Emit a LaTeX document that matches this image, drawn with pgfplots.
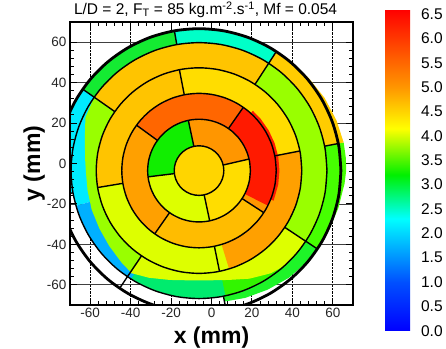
\documentclass[border=0pt]{standalone}
\usepackage{pgfplots}
\usepackage{pgfplotstable}
\pgfplotsset{compat=1.18}
\usepackage{fontspec}
\setmainfont{Liberation Sans}

\definecolor{c6a}{RGB}{30,245,40}
\definecolor{c6b}{RGB}{70,255,0}
\definecolor{cgold}{RGB}{255,204,0}
\definecolor{ccg}{RGB}{0,255,200}
\definecolor{cgr}{RGB}{20,235,50}
\definecolor{ccy}{RGB}{0,235,255}
\definecolor{cgold2}{RGB}{255,196,0}
\definecolor{cblue}{RGB}{0,176,255}
\definecolor{clg}{RGB}{153,255,0}
\definecolor{cbg}{RGB}{0,235,110}
\definecolor{cg2}{RGB}{50,245,0}
\definecolor{cyg}{RGB}{221,255,0}
\definecolor{cyel}{RGB}{255,221,0}
\definecolor{cor}{RGB}{255,160,0}
\definecolor{cred}{RGB}{255,26,0}
\definecolor{cor3}{RGB}{255,188,0}
\definecolor{corr}{RGB}{255,102,0}
\definecolor{cor2}{RGB}{255,150,0}
\definecolor{cgrn}{RGB}{17,238,0}
\definecolor{cc1}{RGB}{255,213,0}

\pgfplotsset{
  layers/gridbelow/.define layer set={axis background,axis grid,main,axis ticks,axis lines,axis tick labels,axis descriptions,axis foreground}{/pgfplots/layers/standard},
  P/.style={data cs=polar, xshift=-12.5pt, yshift=-7.1pt},
  W/.style={P, draw=none, fill=#1},
  L/.style={P, black, line width=1.4pt},
}

% ring circles: angle (deg) and radii (mm) of the measurement rings
\pgfplotstableread{
t r1 r2 r3 r4 r5 r6
0 12.27 25.4 38.2 50.85 63.3 70.2
10 12.27 25.4 38.2 50.85 63.3 70.2
20 12.27 25.4 38.2 50.85 63.3 70.2
30 12.27 25.4 38.2 50.85 63.3 70.2
40 12.27 25.4 38.2 50.85 63.3 70.2
50 12.27 25.4 38.2 50.85 63.3 70.2
60 12.27 25.4 38.2 50.85 63.3 70.2
70 12.27 25.4 38.2 50.85 63.3 70.2
80 12.27 25.4 38.2 50.85 63.3 70.2
90 12.27 25.4 38.2 50.85 63.3 70.2
100 12.27 25.4 38.2 50.85 63.3 70.2
110 12.27 25.4 38.2 50.85 63.3 70.2
120 12.27 25.4 38.2 50.85 63.3 70.2
130 12.27 25.4 38.2 50.85 63.3 70.2
140 12.27 25.4 38.2 50.85 63.3 70.2
150 12.27 25.4 38.2 50.85 63.3 70.2
160 12.27 25.4 38.2 50.85 63.3 70.2
170 12.27 25.4 38.2 50.85 63.3 70.2
180 12.27 25.4 38.2 50.85 63.3 70.2
190 12.27 25.4 38.2 50.85 63.3 70.2
200 12.27 25.4 38.2 50.85 63.3 70.2
210 12.27 25.4 38.2 50.85 63.3 70.2
220 12.27 25.4 38.2 50.85 63.3 70.2
230 12.27 25.4 38.2 50.85 63.3 70.2
240 12.27 25.4 38.2 50.85 63.3 70.2
250 12.27 25.4 38.2 50.85 63.3 70.2
260 12.27 25.4 38.2 50.85 63.3 70.2
270 12.27 25.4 38.2 50.85 63.3 70.2
280 12.27 25.4 38.2 50.85 63.3 70.2
290 12.27 25.4 38.2 50.85 63.3 70.2
300 12.27 25.4 38.2 50.85 63.3 70.2
310 12.27 25.4 38.2 50.85 63.3 70.2
320 12.27 25.4 38.2 50.85 63.3 70.2
330 12.27 25.4 38.2 50.85 63.3 70.2
340 12.27 25.4 38.2 50.85 63.3 70.2
350 12.27 25.4 38.2 50.85 63.3 70.2
360 12.27 25.4 38.2 50.85 63.3 70.2
}\rings

\begin{document}
\begin{tikzpicture}
\begin{axis}[
  name=main, at={(70pt,43pt)}, anchor=south west,
  scale only axis, width=283pt, height=283pt,
  xmin=-70, xmax=70, ymin=-70, ymax=70,
  set layers=gridbelow,
  xtick={-60,-40,-20,0,20,40,60}, ytick={-60,-40,-20,0,20,40,60},
  minor tick num=4, tick align=inside, tick pos=both,
  major tick length=7pt, minor tick length=4pt,
  every tick/.style={black, line width=1pt},
  axis line style={black, line width=1.6pt},
  xmajorgrids, ymajorgrids,
  x grid style={black, densely dotted, line width=1pt},
  y grid style={black!75, line width=0.7pt},
  /pgf/number format/assume math mode=true,
  tick label style={font=\fontsize{13.5}{16}\selectfont, text=black!85},
  xticklabel style={anchor=base, yshift=-12.5pt},
  every axis title shift=0pt,
  title={L/D = 2, F\textsubscript{T} = 85 kg.m\textsuperscript{-2}.s\textsuperscript{-1}, Mf = 0.054},
  title style={at={(rel axis cs:0.479,1)}, anchor=base, yshift=7.5pt, font=\fontsize{15.5}{16}\selectfont},
  xlabel={x (mm)}, ylabel={y (mm)},
  xlabel style={at={(rel axis cs:0.5,0)}, anchor=base, yshift=-38pt, font=\bfseries\fontsize{23}{24}\selectfont},
  ylabel style={at={([xshift=-30pt]rel axis cs:0,0.5)}, anchor=base, font=\bfseries\fontsize{23}{24}\selectfont},
  colormap={jetlike}{rgb255(0cm)=(0,0,255); rgb255(1cm)=(0,80,255); rgb255(2.3cm)=(0,255,255); rgb255(3.2cm)=(0,240,0); rgb255(4.15cm)=(255,255,0); rgb255(5cm)=(255,150,0); rgb255(6.6cm)=(255,0,0)},
  colorbar, point meta min=0, point meta max=6.6,
  colorbar/width=25pt,
  colorbar style={
    at={(parent axis.north east)}, anchor=north west, xshift=23.5pt, yshift=12.7pt,
    scale only axis, width=25pt, height=321.4pt,
    ytick={0,0.5,1,1.5,2,2.5,3,3.5,4,4.5,5,5.5,6,6.5},
    minor tick num=0, major tick length=0pt,
    axis line style={draw=none},
    xmajorgrids=false, ymajorgrids=false,
    yticklabel style={font=\fontsize{15.5}{16}\selectfont, text=black, xshift=7.5pt,
      /pgf/number format/.cd, fixed, fixed zerofill, precision=1, assume math mode=true},
  },
]
% ---- ring 6 (outer, partly measured)
\addplot[W=c6a] coordinates {(281,0) (281,66) (290,67) (300,68) (310,69.2) (320,70) (326.5,70.2) (326.5,0)};
\addplot[W=c6b] coordinates {(326.5,0) (326.5,70.2) (335,70.7) (345,71.4) (355,72.3) (360,72.8) (365,72.9) (371,72.9) (371,0)};
\addplot[W=cgold] coordinates {(11,0) (11,72.9) (20,72.4) (30,71.8) (40,71) (50,70.4) (57,70.2) (57,0)};
\addplot[W=ccg] coordinates {(57,0) (57,70.2) (60,70.2) (70,70.2) (80,70.2) (90,70.2) (100,70.2) (100,0)};
\addplot[W=cgr] coordinates {(100,0) (100,70.2) (110,70.2) (120,70.2) (130,70.2) (140,70.2) (145,70.2) (145,0)};
\addplot[W=ccy] coordinates {(145,0) (145,70.2) (150,70.2) (160,70.2) (170,70.2) (180,70.2) (190,70.2) (190,0)};
% ---- ring 5
\addplot[W=cgold2] coordinates {(57,0) (57,63.3) (60,63.3) (70,63.3) (80,63.3) (90,63.3) (100,63.3) (110,63.3) (120,63.3) (130,63.3) (140,63.3) (145,63.3) (145,0)};
\addplot[W=ccy] coordinates {(145,0) (145,63.3) (150,63.3) (160,63.3) (170,63.3) (180,63.3) (190,63.3) (196,63.3) (196,0)};
\addplot[W=cblue] coordinates {(196,0) (196,63.3) (200,63.3) (210,63.3) (220,63.3) (230,63.3) (239,63.3) (239,0)};
\addplot[W=clg] coordinates {(145,0) (145,63.3) (155,62) (165,58.5) (175,56.5) (180,56) (190,56) (200,56.5) (210,57) (220,58) (230,59.5) (236,60.5) (236,0)};
\addplot[W=cbg] coordinates {(238,0) (238,63.3) (240,63.3) (250,63.3) (260,63.3) (270,63.3) (280,63.3) (282,63.3) (282,0)};
\addplot[W=cg2] coordinates {(282,0) (282,63.3) (290,63.3) (300,63.3) (310,63.3) (320,63.3) (326.5,63.3) (326.5,0)};
\addplot[W=cyg] coordinates {(236,0) (236,61) (245,58.5) (255,56) (265,54.5) (275,54.5) (285,56) (295,59) (305,62) (312,63.3) (320,63.3) (326.5,63.3) (326.5,0)};
\addplot[W=clg] coordinates {(326.5,0) (326.5,63.3) (330,63.3) (340,63.3) (350,63.3) (360,63.3) (370,63.3) (380,63.3) (390,63.3) (400,63.3) (410,63.3) (417,63.3) (417,0)};
% ---- ring 4
\addplot[W=cyel] coordinates {(11,0) (11,50.85) (20,50.85) (30,50.85) (40,50.85) (50,50.85) (60,50.85) (70,50.85) (80,50.85) (90,50.85) (100,50.85) (101,50.85) (101,0)};
\addplot[W=cgold2] coordinates {(101,0) (101,50.85) (110,50.85) (120,50.85) (130,50.85) (140,50.85) (150,50.85) (160,50.85) (170,50.85) (180,50.85) (189.5,50.85) (189.5,0)};
\addplot[W=cyg] coordinates {(189.5,0) (189.5,50.85) (200,50.85) (210,50.85) (220,50.85) (230,50.85) (240,50.85) (250,50.85) (260,50.85) (270,50.85) (280,50.85) (287,50.85) (287,0)};
\addplot[W=cor] coordinates {(287,0) (287,50.85) (290,50.85) (300,50.85) (310,50.85) (320,50.85) (330,50.85) (340,50.85) (350,50.85) (360,50.85) (370,50.85) (371,50.85) (371,0)};
\addplot[W=cred] coordinates {(338,0) (338,39.8) (350,39.8) (360,39.8) (370,39.8) (380,39.8) (390,39.8) (400,39.8) (408,39.8) (408,0)};
% ---- ring 3
\addplot[W=corr] coordinates {(55,0) (55,38.2) (60,38.2) (70,38.2) (80,38.2) (90,38.2) (100,38.2) (110,38.2) (120,38.2) (130,38.2) (140,38.2) (144,38.2) (144,0)};
\addplot[W=cor] coordinates {(144,0) (144,38.2) (150,38.2) (160,38.2) (170,38.2) (180,38.2) (190,38.2) (200,38.2) (210,38.2) (220,38.2) (230,38.2) (235,38.2) (235,0)};
\addplot[W=cor3] coordinates {(235,0) (235,38.2) (240,38.2) (250,38.2) (260,38.2) (270,38.2) (280,38.2) (290,38.2) (300,38.2) (310,38.2) (320,38.2) (327,38.2) (327,0)};
\addplot[W=cor2] coordinates {(327,0) (327,38.2) (330,38.2) (340,38.2) (350,38.2) (360,38.2) (370,38.2) (380,38.2) (390,38.2) (400,38.2) (410,38.2) (415,38.2) (415,0)};
\addplot[W=cred] coordinates {(333,0) (333,38.2) (340,38.2) (350,38.2) (360,38.2) (370,38.2) (380,38.2) (390,38.2) (400,38.2) (410,38.2) (415,38.2) (415,0)};
% ---- ring 2
\addplot[W=cor2] coordinates {(13,0) (13,25.4) (20,25.4) (30,25.4) (40,25.4) (50,25.4) (60,25.4) (70,25.4) (80,25.4) (90,25.4) (100,25.4) (102,25.4) (102,0)};
\addplot[W=cgrn] coordinates {(102,0) (102,25.4) (110,25.4) (120,25.4) (130,25.4) (140,25.4) (150,25.4) (160,25.4) (170,25.4) (180,25.4) (187,25.4) (187,0)};
\addplot[W=cyg] coordinates {(187,0) (187,25.4) (190,25.4) (200,25.4) (210,25.4) (220,25.4) (230,25.4) (240,25.4) (250,25.4) (260,25.4) (270,25.4) (280,25.4) (282,25.4) (282,0)};
\addplot[W=cyel] coordinates {(282,0) (282,25.4) (290,25.4) (300,25.4) (310,25.4) (320,25.4) (330,25.4) (340,25.4) (350,25.4) (360,25.4) (370,25.4) (373,25.4) (373,0)};
% ---- ring 1
\addplot[W=cc1] table[x=t, y=r1] {\rings};
% ---- ring circles
\addplot[L, smooth] table[x=t, y=r1] {\rings};
\addplot[L, smooth] table[x=t, y=r2] {\rings};
\addplot[L, smooth] table[x=t, y=r3] {\rings};
\addplot[L, smooth] table[x=t, y=r4] {\rings};
\addplot[L, smooth] table[x=t, y=r5] {\rings};
\addplot[L, smooth, line width=2.8pt] table[x=t, y=r6] {\rings};
% ---- radial sector lines
\addplot[L] coordinates {(13,12.27) (13,25.4)};
\addplot[L] coordinates {(102,12.27) (102,25.4)};
\addplot[L] coordinates {(187,12.27) (187,25.4)};
\addplot[L] coordinates {(282,12.27) (282,25.4)};
\addplot[L] coordinates {(55,25.4) (55,38.2)};
\addplot[L] coordinates {(144,25.4) (144,38.2)};
\addplot[L] coordinates {(235,25.4) (235,38.2)};
\addplot[L] coordinates {(327,25.4) (327,38.2)};
\addplot[L] coordinates {(11,38.2) (11,50.85)};
\addplot[L] coordinates {(101,38.2) (101,50.85)};
\addplot[L] coordinates {(189.5,38.2) (189.5,50.85)};
\addplot[L] coordinates {(281.5,38.2) (281.5,50.85)};
\addplot[L] coordinates {(57,50.85) (57,70.2)};
\addplot[L] coordinates {(145,50.85) (145,70.2)};
\addplot[L] coordinates {(236,50.85) (236,70.2)};
\addplot[L] coordinates {(326.5,50.85) (326.5,70.2)};
\addplot[L] coordinates {(11,63.3) (11,70.2)};
\addplot[L] coordinates {(100,63.3) (100,70.2)};
\addplot[L] coordinates {(190,63.3) (190,70.2)};
\addplot[L] coordinates {(281,63.3) (281,70.2)};
\end{axis}
\pgfresetboundingbox
\path[use as bounding box] (0,0) rectangle (446pt,348pt);
\end{tikzpicture}
\end{document}
